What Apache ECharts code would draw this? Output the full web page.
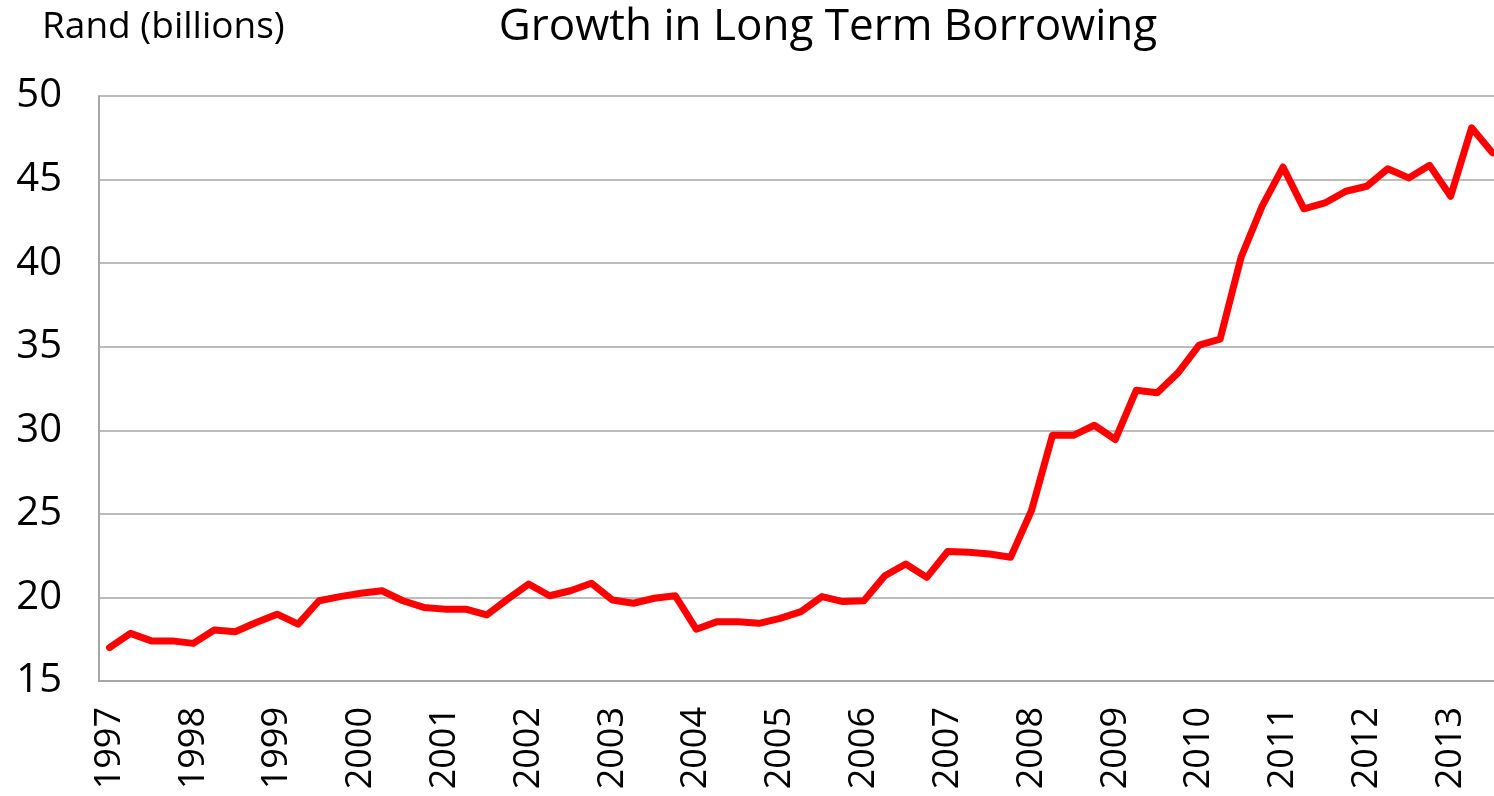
<!DOCTYPE html>
<html>
<head>
<meta charset="utf-8">
<script src="https://cdn.jsdelivr.net/npm/echarts@6/dist/echarts.min.js"></script>
<style>
  html, body { margin: 0; padding: 0; background: #ffffff; }
  #chart { width: 1494px; height: 796px; }
</style>
</head>
<body>
<div id="chart"></div>
<script>
// Quarterly long term borrowing, Rand (billions), 1997 Q1 onward
const years = ['1997','1998','1999','2000','2001','2002','2003','2004','2005',
               '2006','2007','2008','2009','2010','2011','2012','2013'];
const borrowing = [
  17.0, 17.85, 17.4, 17.4,
  17.25, 18.05, 17.95, 18.5,
  19.0, 18.4, 19.8, 20.05,
  20.25, 20.4, 19.8, 19.4,
  19.3, 19.3, 18.95, 19.9,
  20.8, 20.1, 20.4, 20.85,
  19.85, 19.65, 19.95, 20.1,
  18.1, 18.55, 18.55, 18.45,
  18.75, 19.15, 20.05, 19.75,
  19.8, 21.3, 22.0, 21.2,
  22.75, 22.7, 22.6, 22.4,
  25.2, 29.7, 29.7, 30.3,
  29.45, 32.4, 32.25, 33.45,
  35.1, 35.45, 40.35, 43.4,
  45.75, 43.25, 43.6, 44.3,
  44.6, 45.65, 45.1, 45.85,
  44.0, 48.1, 46.6
];

// x is the quarter index; each year is labelled at its first quarter
const points = borrowing.map((v, i) => [i, v]);
const yearTicks = years.map((_, k) => k * 4);

const font = '"Open Sans", Lato, sans-serif';
const chart = echarts.init(document.getElementById('chart'), null, { renderer: 'canvas' });

chart.setOption({
  backgroundColor: '#ffffff',
  animation: false,
  title: [
    {
      text: 'Growth in Long Term Borrowing',
      left: 823, top: 0, textAlign: 'center',
      textStyle: { fontFamily: font, fontSize: 44, fontWeight: 'normal', color: '#000000' }
    },
    {
      text: 'Rand (billions)',
      left: 37, top: 4,
      textStyle: { fontFamily: font, fontSize: 37, fontWeight: 'normal', color: '#000000' }
    }
  ],
  grid: { left: 99, right: 0, top: 96, bottom: 115, containLabel: false },
  xAxis: {
    type: 'value',
    // half a quarter of padding before the first point; the last quarter sits at the right edge
    min: -0.5,
    max: 66.07,
    axisLine: { show: true, onZero: false, lineStyle: { color: '#a6a6a6', width: 2 } },
    axisTick: { show: false },
    splitLine: { show: false },
    axisLabel: {
      customValues: yearTicks,
      formatter: (v) => years[Math.round(v / 4)],
      rotate: 90,
      margin: 26,
      fontFamily: font,
      fontSize: 36,
      color: '#000000'
    }
  },
  yAxis: {
    type: 'value',
    min: 15, max: 50, interval: 5,
    axisLine: { show: true, onZero: false, lineStyle: { color: '#a6a6a6', width: 2 } },
    axisTick: { show: false },
    splitLine: { show: true, lineStyle: { color: '#a6a6a6', width: 1.5 } },
    axisLabel: {
      margin: 37,
      fontFamily: font,
      fontSize: 40,
      color: '#000000'
    }
  },
  series: [{
    type: 'line',
    data: points,
    symbol: 'none',
    clip: false,
    lineStyle: { color: '#ff0000', width: 7, join: 'round', cap: 'round' }
  }]
});
</script>
</body>
</html>
